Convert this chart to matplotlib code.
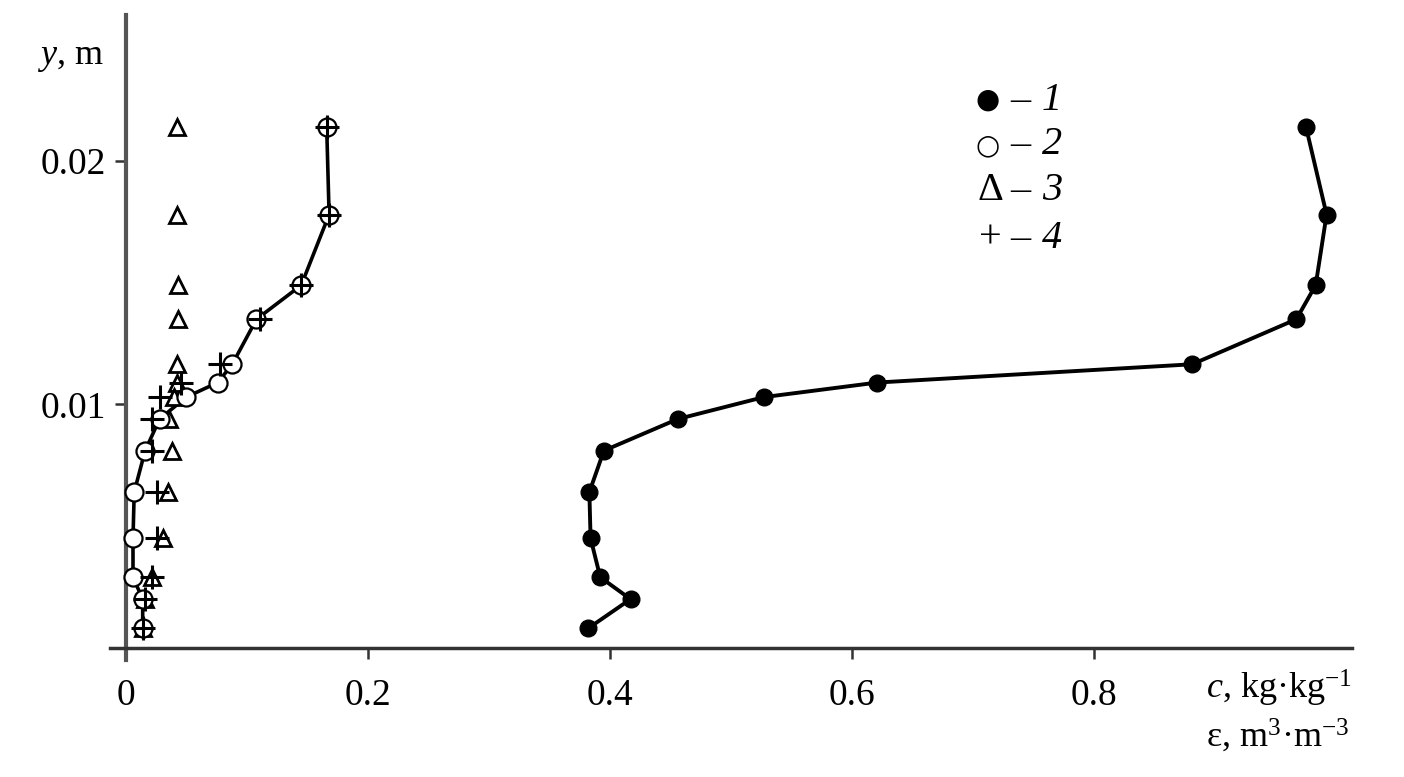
import matplotlib
matplotlib.use("Agg")
import matplotlib.pyplot as plt

plt.rcParams['font.family'] = ['Liberation Serif', 'DejaVu Serif']
plt.rcParams['mathtext.fontset'] = 'custom'
plt.rcParams['mathtext.rm'] = 'Liberation Serif'
plt.rcParams['mathtext.it'] = 'Liberation Serif:italic'

# height levels y, m
y1 = [0.0214, 0.0178, 0.0149, 0.0135, 0.01165, 0.0109, 0.0103, 0.0094, 0.0081,
      0.0064, 0.0045, 0.0029, 0.0020, 0.0008]
# series 1: filled circles (c)
c1 = [0.975, 0.992, 0.983, 0.967, 0.881, 0.621, 0.527, 0.456, 0.395,
      0.383, 0.384, 0.392, 0.417, 0.382]
# series 2: open circles
c2 = [0.166, 0.168, 0.145, 0.108, 0.088, 0.076, 0.050, 0.028, 0.016,
      0.007, 0.006, 0.006, 0.014, 0.014]
# series 3: triangles
c3 = [0.042, 0.042, 0.043, 0.043, 0.042, 0.042, 0.040, 0.036, 0.038,
      0.035, 0.031, 0.022, 0.016, 0.014]
# series 4: plus
c4 = [0.166, 0.168, 0.145, 0.111, 0.078, 0.046, 0.028, 0.022, 0.022,
      0.026, 0.026, 0.022, 0.016, 0.014]

xticks = [0, 0.2, 0.4, 0.6, 0.8]
xticklabels = ['0', '0.2', '0.4', '0.6', '0.8']
yticks = [0.01, 0.02]
yticklabels = ['0.01', '0.02']

fig = plt.figure(figsize=(14.04, 7.77), dpi=100)
W, H = 1404, 777
ax = fig.add_axes([110 / W, (H - 660) / H, (1352 - 110) / W, (660 - 15) / H])
ax.set_xlim(-0.013, 1.013)
ax.set_ylim(-0.0005, 0.026)

for s in ['top', 'right']:
    ax.spines[s].set_visible(False)
ax.spines['left'].set_position(('data', 0))
ax.spines['bottom'].set_position(('data', 0))
ax.spines['left'].set_color('#555555')
ax.spines['left'].set_linewidth(3)
ax.spines['bottom'].set_color('#333333')
ax.spines['bottom'].set_linewidth(2.5)

ax.set_xticks(xticks)
ax.set_xticklabels(xticklabels)
ax.set_yticks(yticks)
ax.set_yticklabels(yticklabels)
ax.tick_params(axis='both', direction='out', length=8, width=1.8, color='#333333',
               labelsize=27)
ax.tick_params(axis='y', pad=6)
ax.tick_params(axis='x', pad=14)

# lines
ax.plot(c1, y1, color='black', lw=2.8, zorder=2)
ax.plot(c2, y1, color='black', lw=2.6, zorder=2)

ax.plot(c1, y1, 'o', ms=12, mfc='black', mec='black', zorder=3)
ax.plot(c3, y1, '^', ms=11, mfc='white', mec='black', mew=2, zorder=3)
ax.plot(c2, y1, 'o', ms=13, mfc='white', mec='black', mew=1.6, zorder=4)
ax.plot(c4, y1, '+', ms=17, mec='black', mew=2.2, zorder=5)

# axis labels
fig.text(37 / W, 1 - 57 / H, r'$y$, m', fontsize=26, ha='left', va='center')
fig.text(1206 / W, 1 - 688 / H, r'$c$, kg·kg$^{-1}$', fontsize=26, ha='left', va='center')
fig.text(1206 / W, 1 - 736 / H, r'ε, m$^{3}$·m$^{-3}$', fontsize=26, ha='left', va='center')

# legend as text
leg_sym = ['●', '○', 'Δ', '+']
leg_num = ['1', '2', '3', '4']
leg_y = [100, 145, 191, 238]
for s, n, yy in zip(leg_sym, leg_num, leg_y):
    if s in '●○':
        fig.text(988 / W, 1 - yy / H, s, fontsize=20, ha='center', va='center',
                 family=['DejaVu Sans'])
    else:
        fig.text(990 / W, 1 - yy / H, s, fontsize=29, ha='center', va='center')
    fig.text(1010 / W, 1 - yy / H, '–', fontsize=29, ha='left', va='center')
    fig.text(1042 / W, 1 - yy / H, n, fontsize=29, ha='left', va='center', style='italic')

fig.savefig('out.png', dpi=100)
